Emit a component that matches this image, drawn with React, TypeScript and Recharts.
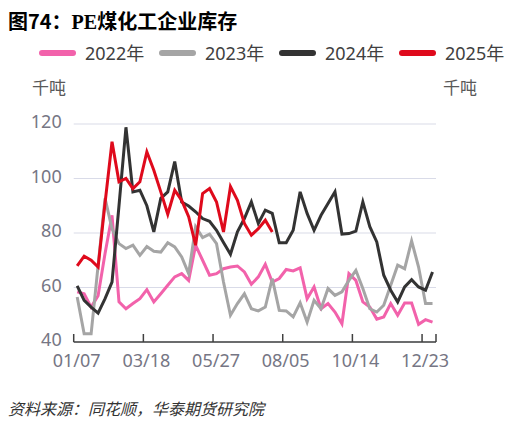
import React from 'react';
import { LineChart, Line, XAxis, YAxis, CartesianGrid } from 'recharts';

// weekly dates (x categories)
const weeks = [
  '01/07', '01/14', '01/21', '01/28', '02/04', '02/11', '02/18', '02/25', '03/04', '03/11',
  '03/18', '03/25', '04/01', '04/08', '04/15', '04/22', '04/29', '05/06', '05/13', '05/20',
  '05/27', '06/03', '06/10', '06/17', '06/24', '07/01', '07/08', '07/15', '07/22', '07/29',
  '08/05', '08/12', '08/19', '08/26', '09/02', '09/09', '09/16', '09/23', '09/30', '10/07',
  '10/14', '10/21', '10/28', '11/04', '11/11', '11/18', '11/25', '12/02', '12/09', '12/16',
  '12/23', '12/30',
];

// PE coal-chemical inventory, thousand tonnes
const inv2022 = [
  58.4, 57.7, 52.8, 57, 72.5, 86.5, 54.7, 52.2, 54.1, 55.9,
  59.2, 54.7, 57.7, 60.8, 63.9, 65.1, 62.6, 75.5, 70, 64.5,
  65.1, 66.9, 67.5, 67.9, 65.7, 61.2, 63.9, 68.5, 62, 63.3,
  66.6, 66.1, 67.2, 55.9, 60.2, 52.2, 54.1, 51, 46.7, 65.1,
  62.6, 54.7, 52.8, 48.4, 49.2, 54.1, 49.8, 54.3, 54.3, 46.5,
  48.2, 47.3,
];
const inv2023 = [
  56.5, 43, 43, 68, 92.7, 81.6, 76.1, 74.3, 75.5, 71.8,
  75, 73.3, 73, 76.4, 74.9, 71.2, 65.1, 82.3, 78.3, 79.6,
  76.1, 62, 49.8, 54.1, 57.7, 52.2, 51.4, 52.8, 63.3, 51.6,
  51.4, 49.2, 54.4, 47.3, 55.3, 52.2, 59.6, 57.1, 58.4, 62.6,
  66.3, 59.6, 52.2, 51, 53.5, 60.8, 68.2, 66.9, 77.1, 67.5,
  54.1, 54.1,
];
const inv2024 = [
  60.6, 55.3, 52.8, 50.6, 55.9, 62, 90, 118.8, 95.1, 95.7,
  90, 80.4, 92.7, 95.1, 106.2, 91.4, 89.9, 87.8, 85.3, 84.3,
  81, 76.5, 72.2, 80.4, 85.3, 91.4, 83.5, 88.4, 87.2, 76.4,
  76.4, 81, 95.1, 87.2, 81, 86.5, 90.8, 95.1, 79.6, 79.8,
  80.7, 91.4, 82.3, 76.7, 64.5, 59, 54.7, 60.2, 62.9, 60.2,
  59, 65.7,
];
const inv2025 = [
  67.9, 71.5, 70, 67.5, 91, 113.5, 98.8, 100, 96.3, 98.8,
  109.8, 103, 95.1, 86.9, 95.7, 92, 86, 75.5, 94.5, 96.3,
  91.4, 80.4, 97, 92, 83.5, 79.2, 81.6, 84.7, 80.4,
];

const yTicks = [40, 60, 80, 100, 120];
const labelEvery = 10;

const series = [
  { key: 'y2022', name: '2022年', color: '#f262ab' },
  { key: 'y2023', name: '2023年', color: '#a5a5a5' },
  { key: 'y2024', name: '2024年', color: '#333333' },
  { key: 'y2025', name: '2025年', color: '#df0a1c' },
];

const data = weeks.map((w, i) => ({
  idx: i,
  week: w,
  y2022: inv2022[i] ?? null,
  y2023: inv2023[i] ?? null,
  y2024: inv2024[i] ?? null,
  y2025: inv2025[i] ?? null,
}));

// tick marks sit between categories, labels every 10 weeks
const xTicks = [
  ...weeks.map((_, i) => i).filter((i) => i % labelEvery === 0).map((i) => i - 0.5),
  weeks.length - 0.5,
];

const font = '"Noto Sans", "Noto Sans CJK SC", sans-serif';
const tickFill = '#767684';

export default function App() {
  return (
    <div
      style={{
        position: 'absolute',
        left: 0,
        top: 0,
        width: 519,
        height: 426,
        background: '#fff',
        fontFamily: font,
      }}
    >
      <LineChart
        width={519}
        height={426}
        data={data}
        margin={{ top: 124, right: 0, bottom: 44, left: 0 }}
      >
        <CartesianGrid vertical={false} stroke="#d9dbe8" strokeWidth={1.2} yAxisId="left" />
        <XAxis
          dataKey="idx"
          type="number"
          domain={[-0.5, weeks.length - 0.5]}
          ticks={xTicks}
          interval={0}
          tickFormatter={(v: number) => (v < weeks.length - 1 ? weeks[Math.ceil(v)] : '')}
          height={40}
          tickSize={-8}
          tickMargin={20}
          axisLine={{ stroke: '#404040', strokeWidth: 1.5 }}
          tickLine={{ stroke: '#404040', strokeWidth: 1.5 }}
          tick={{ fill: tickFill, fontSize: 18, fontFamily: font, dx: 3 }}
        />
        <YAxis
          yAxisId="left"
          domain={[40, 120]}
          ticks={yTicks}
          width={73.7}
          axisLine={false}
          tickLine={false}
          tickSize={0}
          tickMargin={12}
          tick={{ fill: tickFill, fontSize: 18, fontFamily: font, dy: -2 }}
        />
        <YAxis
          yAxisId="right"
          orientation="right"
          domain={[40, 120]}
          ticks={yTicks}
          width={83}
          axisLine={false}
          tickLine={false}
          tickSize={0}
          tickMargin={12}
          tick={{ fill: tickFill, fontSize: 18, fontFamily: font, dy: -2 }}
        />
        {series.map((s) => (
          <Line
            key={s.key}
            yAxisId="left"
            type="linear"
            dataKey={s.key}
            name={s.name}
            stroke={s.color}
            strokeWidth={3}
            dot={false}
            activeDot={false}
            connectNulls={false}
            isAnimationActive={false}
          />
        ))}
      </LineChart>

      <div
        style={{
          position: 'absolute',
          left: 8,
          top: 8,
          fontSize: 20,
          lineHeight: '26px',
          fontWeight: 700,
          color: '#000',
          fontFamily: '"Noto Sans CJK SC", sans-serif',
          whiteSpace: 'nowrap',
        }}
      >
        图74：<span style={{ fontFamily: '"Liberation Serif", serif', fontWeight: 700 }}>PE</span>煤化工企业库存
      </div>

      <div style={{ position: 'absolute', left: 39, top: 41, display: 'flex' }}>
        {series.map((s) => (
          <div key={s.key} style={{ width: 120, display: 'flex', alignItems: 'center' }}>
            <div
              style={{
                width: 37,
                height: 6,
                borderRadius: 3,
                background: s.color,
                marginRight: 9,
              }}
            />
            <span style={{ fontSize: 18, lineHeight: '24px', color: '#404040' }}>{s.name}</span>
          </div>
        ))}
      </div>

      <div style={{ position: 'absolute', left: 32, top: 76, fontSize: 17, lineHeight: '24px', color: '#595959' }}>
        千吨
      </div>
      <div style={{ position: 'absolute', left: 443, top: 76, fontSize: 17, lineHeight: '24px', color: '#595959' }}>
        千吨
      </div>

      <div
        style={{
          position: 'absolute',
          left: 8,
          top: 396,
          fontSize: 16,
          lineHeight: '24px',
          fontStyle: 'italic',
          color: '#333',
          fontFamily: '"Noto Sans CJK SC", sans-serif',
          whiteSpace: 'nowrap',
        }}
      >
        资料来源：同花顺，华泰期货研究院
      </div>
    </div>
  );
}
